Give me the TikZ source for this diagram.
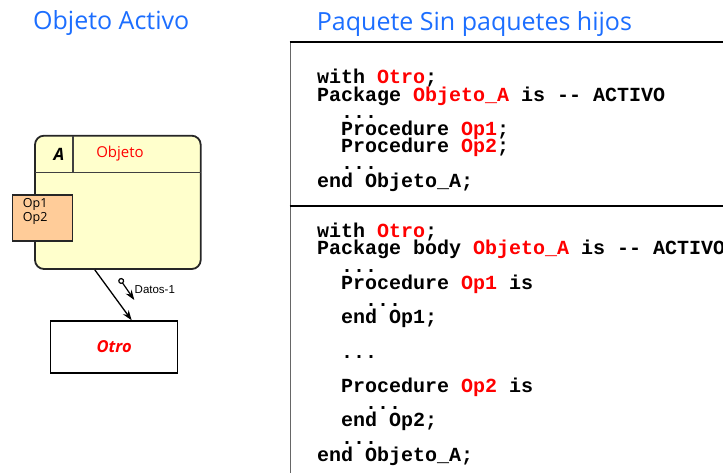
\documentclass[tikz,border=0pt]{standalone}
\usepackage{fontspec}
\setmainfont{Open Sans}
\newfontfamily\codefont{Liberation Mono}
\newfontfamily\smallfont{Liberation Sans}
\usetikzlibrary{arrows.meta}
\definecolor{titleblue}{RGB}{28,110,255}
\definecolor{codered}{RGB}{255,0,0}
\definecolor{objfill}{RGB}{255,255,204}
\definecolor{opfill}{RGB}{255,204,153}
\newcommand\kw[1]{\textcolor{codered}{#1}}
\tikzset{
  title/.style={anchor=base west, inner sep=0pt, text=titleblue,
    font=\fontsize{25}{25}\selectfont},
  codeline/.style={anchor=base west, inner sep=0pt,
    font=\codefont\bfseries\fontsize{20}{20}\selectfont},
  objbox/.style={draw=black!85, line width=1.8pt, fill=objfill,
    rounded corners=9pt, inner sep=0pt},
  opbox/.style={draw=black!85, line width=1.5pt, fill=opfill, inner sep=0pt},
  plainbox/.style={draw=black, line width=1.5pt, fill=white, inner sep=0pt},
  smalltext/.style={anchor=base west, inner sep=0pt,
    font=\fontsize{12.5}{12.5}\selectfont},
  flow/.style={line width=1.3pt, -{Stealth[length=10pt,width=7pt]}},
  msg/.style={line width=1.2pt, {Circle[open,length=6pt,width=6pt]}-{Stealth[length=10pt,width=7pt]}},
}
\begin{document}
\begin{tikzpicture}[x=1pt,y=-1pt]
\useasboundingbox (0,0) rectangle (723,473);

% headings
\node[title] (t1) at (33,29.3) {Objeto Activo};
\node[title] (t2) at (316.7,30.7) {Paquete Sin paquetes hijos};

% active object with its provided operations
\node[objbox, minimum width=165.7pt, minimum height=133.3pt] (objeto) at (117.85,202.35) {};
\draw[line width=1.6pt, black!75] (35,172.7) -- (200.7,172.7);
\draw[line width=1.6pt, black!75] (72.7,135.7) -- (72.7,172.7);
\node[inner sep=0pt, font=\bfseries\itshape\fontsize{17}{17}\selectfont] (letra) at (59,154) {A};
\node[inner sep=0pt, text=codered, font=\fontsize{15}{15}\selectfont] (nombre) at (120,154) {Objeto};
\node[opbox, minimum width=60pt, minimum height=46pt] (ops) at (42.7,218) {};
\node[smalltext] (op1) at (22.7,208) {Op1};
\node[smalltext] (op2) at (22.7,221.5) {Op2};

% used package
\node[plainbox, minimum width=127pt, minimum height=51.7pt, text=codered,
  font=\bfseries\itshape\fontsize{16.5}{16.5}\selectfont] (otro) at (114.2,346.9) {Otro};

% dependency and message
\draw[flow] ([xshift=-23pt]objeto.south) -- ([xshift=17.5pt]otro.north);
\coordinate (msgA) at (119.5,278.5);
\coordinate (msgB) at (134.3,300);
\draw[msg] (msgA) -- (msgB);
\node[anchor=west, inner sep=0pt, font=\smallfont\fontsize{11.5}{11.5}\selectfont] (datos) at (134.5,289.3) {Datos-1};

% code frame
\draw[line width=1.5pt, black!60] (290.5,473) -- (290.5,42.3);
\draw[line width=2pt] (289.7,42.3) -- (723,42.3);
\draw[line width=2pt] (289.7,205.7) -- (723,205.7);

% specification
\node[codeline] (s1) at (317,84)    {with \kw{Otro};};
\node[codeline] (s2) at (317,101.2) {Package \kw{Objeto\_A} is -{}- ACTIVO};
\node[codeline] (s3) at (341,118.4) {...};
\node[codeline] (s4) at (341,135.6) {Procedure \kw{Op1};};
\node[codeline] (s5) at (341,152.8) {Procedure \kw{Op2};};
\node[codeline] (s6) at (341,170)   {...};
\node[codeline] (s7) at (317,187.2) {end Objeto\_A;};

% body
\node[codeline] (b1)  at (317,237.7) {with \kw{Otro};};
\node[codeline] (b2)  at (317,254.9) {Package body \kw{Objeto\_A} is -{}- ACTIVO};
\node[codeline] (b3)  at (341,272.1) {...};
\node[codeline] (b4)  at (341,289.3) {Procedure \kw{Op1} is};
\node[codeline] (b5)  at (365,306.5) {...};
\node[codeline] (b6)  at (341,323.7) {end Op1;};
\node[codeline] (b7)  at (341,358.1) {...};
\node[codeline] (b8)  at (341,392.5) {Procedure \kw{Op2} is};
\node[codeline] (b9)  at (365,409.7) {...};
\node[codeline] (b10) at (341,426.9) {end Op2;};
\node[codeline] (b11) at (341,444.1) {...};
\node[codeline] (b12) at (317,461.3) {end Objeto\_A;};
\end{tikzpicture}
\end{document}
